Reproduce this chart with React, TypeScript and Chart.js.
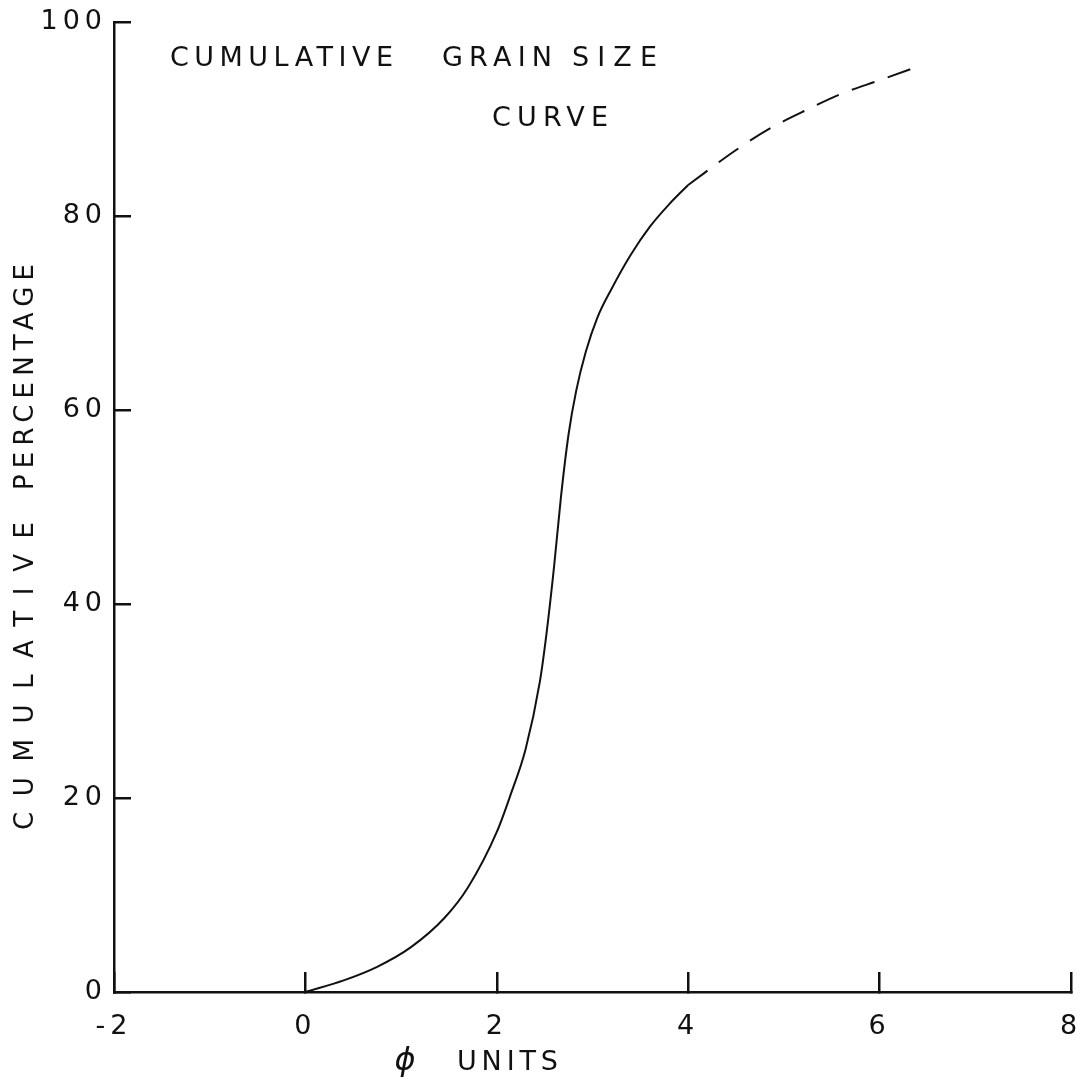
import React, { useEffect, useRef } from "react";
import { Chart, registerables } from "chart.js";

Chart.register(...registerables);

// ---- data ----
const solidPhi = [0, 0.4, 0.75, 1.1, 1.45, 1.7, 2.0, 2.15, 2.3, 2.45, 2.52, 2.6, 2.67, 2.75, 2.83, 2.93, 3.05, 3.2, 3.4, 3.6, 3.8, 4.0];
const solidPct = [0, 1.2, 2.6, 4.6, 7.6, 10.8, 16.5, 20.5, 25, 32, 37, 44, 51, 57.5, 62, 66, 69.5, 72.5, 76, 78.9, 81.2, 83.2];
const dashedPhi = [4.0, 4.5, 4.85, 5.25, 5.6, 6.0, 6.4];
const dashedPct = [83.2, 86.8, 89, 91, 92.6, 94, 95.4];

const xTicks = [-2, 0, 2, 4, 6, 8];
const yTicks = [0, 20, 40, 60, 80, 100];

const titleLine1 = ["CUMULATIVE", "GRAIN", "SIZE"];
const titleLine2 = ["CURVE"];
const xTitleWords = ["ϕ", "UNITS"];
const yTitleWords = ["CUMULATIVE", "PERCENTAGE"];

// ---- styling / layout ----
const INK = "#111111";
const FONT = "'DejaVu Sans', sans-serif";

type Word = { text: string; from: number; to: number };

function drawSpacedWord(ctx: CanvasRenderingContext2D, w: Word, y: number) {
  (ctx as any).letterSpacing = "0px";
  const natural = ctx.measureText(w.text).width;
  const n = w.text.length;
  const ls = n > 1 ? (w.to - w.from - natural) / (n - 1) : 0;
  (ctx as any).letterSpacing = `${ls}px`;
  if (n === 1) {
    ctx.textAlign = "center";
    ctx.fillText(w.text, (w.from + w.to) / 2, y);
  } else {
    ctx.textAlign = "left";
    ctx.fillText(w.text, w.from, y);
  }
}

const textPlugin = {
  id: "handLettering",
  beforeDraw(chart: any) {
    (chart.ctx as any).letterSpacing = "5px";
  },
  afterDraw(chart: any) {
    const ctx: CanvasRenderingContext2D = chart.ctx;
    ctx.save();
    ctx.fillStyle = INK;
    ctx.textBaseline = "middle";

    // title, inside the plot
    ctx.font = `27px ${FONT}`;
    const l1: Word[] = [
      { text: titleLine1[0], from: 170, to: 393 },
      { text: titleLine1[1], from: 442, to: 552 },
      { text: titleLine1[2], from: 572, to: 657 },
    ];
    l1.forEach((w) => drawSpacedWord(ctx, w, 59));
    drawSpacedWord(ctx, { text: titleLine2[0], from: 492, to: 608 }, 119);

    // x axis title
    ctx.font = `italic 32px ${FONT}`;
    drawSpacedWord(ctx, { text: xTitleWords[0], from: 395, to: 415 }, 1062);
    ctx.font = `27px ${FONT}`;
    drawSpacedWord(ctx, { text: xTitleWords[1], from: 457, to: 558 }, 1063);

    // y axis title (rotated)
    ctx.save();
    ctx.translate(26, 830);
    ctx.rotate(-Math.PI / 2);
    ctx.font = `26px ${FONT}`;
    drawSpacedWord(ctx, { text: yTitleWords[0], from: 0, to: 308 }, 0);
    drawSpacedWord(ctx, { text: yTitleWords[1], from: 340, to: 566 }, 0);
    ctx.restore();

    ctx.restore();
    (ctx as any).letterSpacing = "0px";
  },
};

export default function App() {
  const canvasRef = useRef<HTMLCanvasElement>(null);

  useEffect(() => {
    const canvas = canvasRef.current;
    if (!canvas) return;
    const chart = new Chart(canvas, {
      type: "line",
      data: {
        datasets: [
          {
            data: solidPhi.map((x, i) => ({ x, y: solidPct[i] })),
            borderColor: INK,
            borderWidth: 2,
            pointRadius: 0,
            cubicInterpolationMode: "monotone",
            fill: false,
          },
          {
            data: dashedPhi.map((x, i) => ({ x, y: dashedPct[i] })),
            borderColor: INK,
            borderWidth: 2,
            borderDash: [24, 14],
            pointRadius: 0,
            cubicInterpolationMode: "monotone",
            fill: false,
          },
        ],
      },
      options: {
        animation: false,
        responsive: true,
        maintainAspectRatio: false,
        layout: { padding: { top: 22, right: 10, left: 0, bottom: 0 } },
        plugins: {
          legend: { display: false },
          tooltip: { enabled: false },
          title: { display: false },
        },
        scales: {
          x: {
            type: "linear",
            position: "bottom",
            min: -2,
            max: 8,
            afterBuildTicks: (s: any) => {
              s.ticks = xTicks.map((v) => ({ value: v }));
            },
            afterFit: (s: any) => {
              s.height = 97;
              s.paddingLeft = 0;
              s.paddingRight = 0;
            },
            ticks: {
              color: INK,
              font: { family: FONT, size: 27 },
              padding: 39,
              maxRotation: 0,
              autoSkip: false,
            },
            grid: {
              drawOnChartArea: false,
              drawTicks: true,
              tickLength: -20,
              color: INK,
              lineWidth: 2.5,
            },
            border: { display: true, color: INK, width: 2.5 },
          },
          y: {
            type: "linear",
            min: 0,
            max: 100,
            afterBuildTicks: (s: any) => {
              s.ticks = yTicks.map((v) => ({ value: v }));
            },
            afterFit: (s: any) => {
              s.width = 114;
              s.paddingTop = 0;
              s.paddingBottom = 0;
            },
            ticks: {
              color: INK,
              font: { family: FONT, size: 27 },
              padding: 24,
              autoSkip: false,
            },
            grid: {
              drawOnChartArea: false,
              drawTicks: true,
              tickLength: -17,
              color: INK,
              lineWidth: 2.5,
            },
            border: { display: true, color: INK, width: 2.5 },
          },
        },
      },
      plugins: [textPlugin],
    } as any);
    return () => chart.destroy();
  }, []);

  return (
    <div
      style={{
        position: "fixed",
        left: 0,
        top: 0,
        width: 1081,
        height: 1089,
        background: "#ffffff",
      }}
    >
      <canvas ref={canvasRef} />
    </div>
  );
}
